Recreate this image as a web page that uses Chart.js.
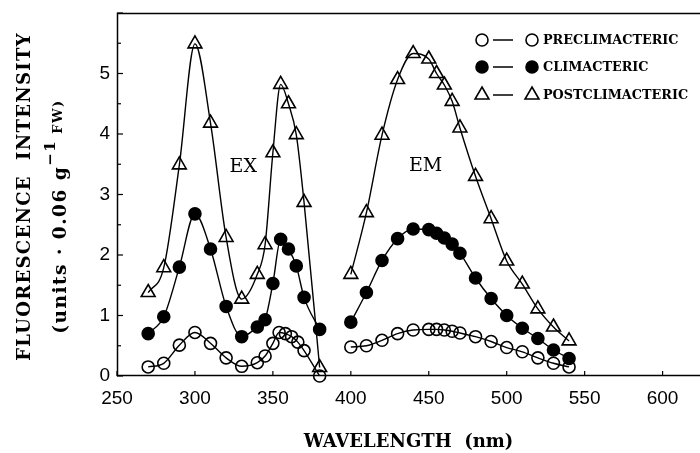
<!DOCTYPE html>
<html>
<head>
<meta charset="utf-8">
<script src="https://cdn.jsdelivr.net/npm/chart.js@4.4.1/dist/chart.umd.min.js"></script>
<style>
  body { margin: 0; background: #fff; }
  #wrap { width: 700px; height: 453px; }
</style>
</head>
<body>
<div id="wrap"><canvas id="fluoChart"></canvas></div>
<script>
// excitation (EX) and emission (EM) scans
const preExX = [270, 280, 290, 300, 310, 320, 330, 340, 345, 350, 354, 358, 362, 366, 370, 380];
const preExY = [0.15, 0.21, 0.51, 0.72, 0.54, 0.30, 0.16, 0.22, 0.33, 0.54, 0.72, 0.70, 0.65, 0.56, 0.42, 0.0];
const preEmX = [400, 410, 420, 430, 440, 450, 455, 460, 465, 470, 480, 490, 500, 510, 520, 530, 540];
const preEmY = [0.48, 0.50, 0.59, 0.70, 0.76, 0.77, 0.77, 0.76, 0.74, 0.71, 0.65, 0.57, 0.47, 0.40, 0.30, 0.21, 0.15];

const exX = [270, 280, 290, 300, 310, 320, 330, 340, 345, 350, 355, 360, 365, 370, 380];
const emX = [400, 410, 420, 430, 440, 450, 455, 460, 465, 470, 480, 490, 500, 510, 520, 530, 540];

const climExY = [0.70, 0.98, 1.80, 2.68, 2.10, 1.15, 0.65, 0.81, 0.93, 1.53, 2.26, 2.10, 1.82, 1.30, 0.77];
const climEmY = [0.89, 1.38, 1.91, 2.27, 2.43, 2.42, 2.36, 2.28, 2.18, 2.03, 1.62, 1.28, 1.00, 0.79, 0.62, 0.43, 0.29];

const postExY = [1.38, 1.79, 3.49, 5.49, 4.18, 2.29, 1.27, 1.68, 2.17, 3.69, 4.82, 4.50, 3.99, 2.87, 0.14];
const postEmY = [1.68, 2.70, 3.98, 4.90, 5.33, 5.24, 5.00, 4.81, 4.54, 4.10, 3.30, 2.60, 1.90, 1.52, 1.11, 0.81, 0.58];

const xTicks = [250, 300, 350, 400, 450, 500, 550, 600];
const yTicks = [0, 1, 2, 3, 4, 5];
const legendNames = ['PRECLIMACTERIC', 'CLIMACTERIC', 'POSTCLIMACTERIC'];
const scanLabels = [{ text: 'EX', x: 331, y: 3.46 }, { text: 'EM', x: 448, y: 3.47 }];
const yTitle1 = 'FLUORESCENCE  INTENSITY';
const yTitle2 = ['(units \u00b7 0.06 g', '\u22121', ' FW)'];

function pts(xs, ys) {
    return xs.map((x, i) => ({ x: x, y: ys[i] }));
}

const serif = '"DejaVu Serif", "Liberation Serif", serif';
const sans = '"Liberation Sans", Arial, sans-serif';

function series(data, style, filled, r) {
    return {
        data: data,
        borderColor: '#000',
        borderWidth: 1.4,
        pointStyle: style,
        pointRadius: r,
        pointBorderWidth: 1.6,
        pointBorderColor: '#000',
        pointBackgroundColor: filled ? '#000' : 'rgba(0,0,0,0)',
        cubicInterpolationMode: 'monotone',
        fill: false,
        clip: false
    };
}

function marker(ctx, style, filled, x, y) {
    ctx.beginPath();
    if (style === 'circle') {
        ctx.arc(x, y, 6, 0, Math.PI * 2);
    } else {
        const r = 8;
        ctx.moveTo(x, y - r);
        ctx.lineTo(x + r * 0.866, y + r * 0.5);
        ctx.lineTo(x - r * 0.866, y + r * 0.5);
        ctx.closePath();
    }
    if (filled) { ctx.fillStyle = '#000'; ctx.fill(); }
    ctx.lineWidth = 1.6;
    ctx.strokeStyle = '#000';
    ctx.stroke();
}

const extras = {
    id: 'extras',
    afterDraw(chart) {
        const ctx = chart.ctx;
        const a = chart.chartArea;
        const xs = chart.scales.x, ys = chart.scales.y;
        ctx.save();
        ctx.strokeStyle = '#000';
        ctx.lineWidth = 1.5;
        // frame: left, bottom, top
        ctx.beginPath();
        ctx.moveTo(a.right, a.top + 0.5);
        ctx.lineTo(a.left + 0.5, a.top + 0.5);
        ctx.lineTo(a.left + 0.5, a.bottom - 0.5);
        ctx.lineTo(a.right, a.bottom - 0.5);
        ctx.stroke();
        // inward tick marks
        ctx.lineWidth = 1.2;
        xs.ticks.forEach(t => {
            const px = xs.getPixelForValue(t.value);
            ctx.beginPath();
            ctx.moveTo(px, a.bottom);
            ctx.lineTo(px, a.bottom - 5);
            ctx.stroke();
        });
        ys.ticks.forEach(t => {
            const py = ys.getPixelForValue(t.value);
            const len = Number.isInteger(t.value) ? 6 : 4;
            ctx.beginPath();
            ctx.moveTo(a.left, py);
            ctx.lineTo(a.left + len, py);
            ctx.stroke();
        });
        ctx.fillStyle = '#000';
        // y title, two rotated lines
        ctx.save();
        ctx.translate(25, (a.top + a.bottom) / 2 + 2);
        ctx.rotate(-Math.PI / 2);
        ctx.font = 'bold 18px ' + serif;
        ctx.letterSpacing = '1.3px';
        ctx.textAlign = 'center';
        ctx.textBaseline = 'middle';
        ctx.fillText(yTitle1, 0, 0);
        ctx.restore();
        ctx.save();
        ctx.translate(61, (a.top + a.bottom) / 2 + 22);
        ctx.rotate(-Math.PI / 2);
        ctx.textAlign = 'left';
        ctx.textBaseline = 'middle';
        ctx.letterSpacing = '1.5px';
        const fonts = ['bold 18.5px ' + serif, 'bold 15px ' + serif, 'bold 13px ' + serif];
        const shift = [0, -10, -2];
        let total = 0;
        const widths = yTitle2.map((s, i) => { ctx.font = fonts[i]; const w = ctx.measureText(s).width; total += w; return w; });
        let cx = -total / 2;
        yTitle2.forEach((s, i) => {
            ctx.font = fonts[i];
            ctx.fillText(s, cx, shift[i]);
            cx += widths[i];
        });
        ctx.restore();
        // EX / EM labels
        ctx.font = '19px ' + serif;
        ctx.textAlign = 'center';
        ctx.textBaseline = 'middle';
        scanLabels.forEach(l => {
            ctx.fillText(l.text, xs.getPixelForValue(l.x), ys.getPixelForValue(l.y));
        });
        // legend: marker — marker NAME
        const styles = [['circle', false], ['circle', true], ['triangle', false]];
        const rowY = [a.top + 27, a.top + 54, a.top + 82];
        ctx.font = 'bold 12.8px ' + serif;
        ctx.textAlign = 'left';
        legendNames.forEach((name, i) => {
            const y = rowY[i];
            marker(ctx, styles[i][0], styles[i][1], 482, y);
            ctx.beginPath();
            ctx.lineWidth = 1.5;
            ctx.moveTo(493, y);
            ctx.lineTo(513, y);
            ctx.stroke();
            marker(ctx, styles[i][0], styles[i][1], 532, y);
            ctx.fillText(name, 543, y + 1);
        });
        ctx.restore();
    }
};

new Chart(document.getElementById('fluoChart'), {
    type: 'line',
    data: {
        datasets: [
            series(pts(preExX, preExY), 'circle', false, 6),
            series(pts(preEmX, preEmY), 'circle', false, 6),
            series(pts(exX, climExY), 'circle', true, 6),
            series(pts(emX, climEmY), 'circle', true, 6),
            series(pts(exX, postExY), 'triangle', false, 8),
            series(pts(emX, postEmY), 'triangle', false, 8)
        ]
    },
    options: {
        responsive: true,
        maintainAspectRatio: false,
        animation: false,
        layout: { autoPadding: false, padding: { top: 13, right: 0, left: 0, bottom: 0 } },
        plugins: {
            legend: { display: false },
            tooltip: { enabled: false }
        },
        scales: {
            x: {
                type: 'linear',
                min: 250,
                max: 624,
                afterFit: (s) => { s.height = 77; s.paddingLeft = 0; s.paddingRight = 0; },
                afterBuildTicks: (s) => { s.ticks = xTicks.map(v => ({ value: v })); },
                border: { display: false },
                grid: { display: true, drawOnChartArea: false, drawTicks: false, color: 'rgba(0,0,0,0)' },
                ticks: {
                    color: '#000',
                    padding: 11,
                    maxRotation: 0,
                    autoSkip: false,
                    font: { family: sans, size: 19 }
                },
                title: {
                    display: true,
                    text: 'WAVELENGTH  (nm)',
                    color: '#000',
                    font: { family: serif, size: 18, weight: 'bold', lineHeight: 1.2 },
                    padding: { top: 0, bottom: 0 }
                }
            },
            y: {
                type: 'linear',
                min: 0,
                max: 6,
                afterFit: (s) => { s.width = 117; s.paddingTop = 0; s.paddingBottom = 0; },
                afterBuildTicks: (s) => {
                    const t = [];
                    for (let i = 0; i <= 12; i++) t.push({ value: i / 2 });
                    s.ticks = t;
                },
                border: { display: false },
                grid: { display: true, drawOnChartArea: false, drawTicks: false, color: 'rgba(0,0,0,0)' },
                ticks: {
                    color: '#000',
                    padding: 7,
                    autoSkip: false,
                    font: { family: sans, size: 19 },
                    callback: (v) => yTicks.includes(v) ? String(v) : ''
                }
            }
        }
    },
    plugins: [extras]
});
</script>
</body>
</html>
